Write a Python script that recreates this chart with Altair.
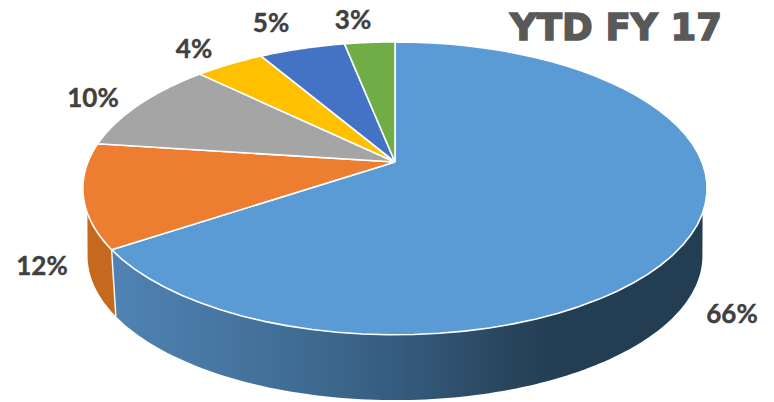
import math
import altair as alt
import pandas as pd

categories = ["A", "B", "C", "D", "E", "F"]
shares = [65.6, 11.5, 10.2, 4.3, 5.3, 3.1]
colors = ["#5B9BD5", "#ED7D31", "#A5A5A5", "#FFC000", "#4472C4", "#70AD47"]
labels = ["66%", "12%", "10%", "4%", "5%", "3%"]
label_x = [732, 42, 93, 194, 271, 353]
label_y = [313, 265, 97, 48, 22, 19]
title_text = "YTD FY 17"

# perspective view of a circular disc
CX, CY, RX, RY, K = 395, 160, 307, 141.7, 0.18
DROP, SHRINK = 67.5, 0.985
YC = 186


def top(pct):
    t = math.radians(pct * 3.6)
    w = 1 + K * math.cos(t)
    return CX + RX * math.sin(t) / w, CY - RY * math.cos(t) / w


def low(pct):
    x, y = top(pct)
    return CX + SHRINK * (x - CX), YC + DROP + SHRINK * (y - YC)


def steps(a, b, n=60):
    return [a + (b - a) * i / n for i in range(n + 1)]


rows, edges = [], 0.0
slice_rows = []
for cat, s, col in zip(categories, shares, colors):
    pts = [(CX, CY)] + [top(p) for p in steps(edges, edges + s)] + [(CX, CY)]
    for i, (x, y) in enumerate(pts):
        slice_rows.append({"cat": cat, "i": i, "x": x, "y": y, "col": col})
    edges += s

blue_end = shares[0]
tip_r = 30.5   # share where the wall's right tip sits
wid_r = 28.0
blue_pts = [top(p) for p in steps(tip_r, blue_end, 120)] + [low(p) for p in steps(blue_end, wid_r, 120)]
tip_l = 100 - tip_r
wid_l = 100 - wid_r
orange_pts = [top(p) for p in steps(blue_end, tip_l, 40)] + [low(p) for p in steps(wid_l, blue_end, 40)]


def frame(pts):
    return pd.DataFrame({"i": range(len(pts)), "x": [p[0] for p in pts], "y": [p[1] for p in pts]})


X = alt.X("x:Q", scale=alt.Scale(domain=[8, 766], nice=False, zero=False), axis=None)
Y = alt.Y("y:Q", scale=alt.Scale(domain=[402, 8], nice=False, zero=False), axis=None)

blue_grad = alt.Gradient(
    gradient="linear", x1=0, x2=1, y1=0, y2=0,
    stops=[
        alt.GradientStop(color="#5083B4", offset=0),
        alt.GradientStop(color="#3F6C93", offset=0.32),
        alt.GradientStop(color="#355B7D", offset=0.49),
        alt.GradientStop(color="#27435A", offset=0.69),
        alt.GradientStop(color="#233D53", offset=0.76),
        alt.GradientStop(color="#233D53", offset=1),
    ],
)

blue_wall = alt.Chart(frame(blue_pts)).mark_line(filled=True, fill=blue_grad, stroke=None).encode(x=X, y=Y, order="i:Q")
orange_wall = alt.Chart(frame(orange_pts)).mark_line(filled=True, fill="#C5691F", stroke=None).encode(x=X, y=Y, order="i:Q")
divider = alt.Chart(frame([top(blue_end), low(blue_end)])).mark_line(color="#F4F6F8", strokeWidth=1.5).encode(x=X, y=Y, order="i:Q")

slices = alt.Chart(pd.DataFrame(slice_rows)).mark_line(
    filled=True, stroke="white", strokeWidth=1.6, strokeJoin="round"
).encode(
    x=X, y=Y, order="i:Q", detail="cat:N",
    fill=alt.Fill("col:N", scale=None),
)

text = alt.Chart(pd.DataFrame({"t": labels, "x": label_x, "y": label_y})).mark_text(
    font="Lato", fontWeight="bold", fontSize=26, color="#404040", stroke="#404040", strokeWidth=0.4,
    align="center", baseline="middle"
).encode(x=X, y=Y, text="t:N")

title = alt.Chart(pd.DataFrame({"t": [title_text], "x": [616], "y": [27]})).mark_text(
    font="DejaVu Sans", fontWeight="bold", fontSize=37, color="#595959", stroke="#595959", strokeWidth=1.6,
    align="center", baseline="middle"
).encode(x=X, y=Y, text="t:N")

chart = alt.layer(blue_wall, orange_wall, divider, slices, text, title).properties(
    width=758, height=394, padding=0, background="white"
).configure_view(stroke=None)
chart.save("out.html", embed_options={"renderer": "svg", "actions": False})
